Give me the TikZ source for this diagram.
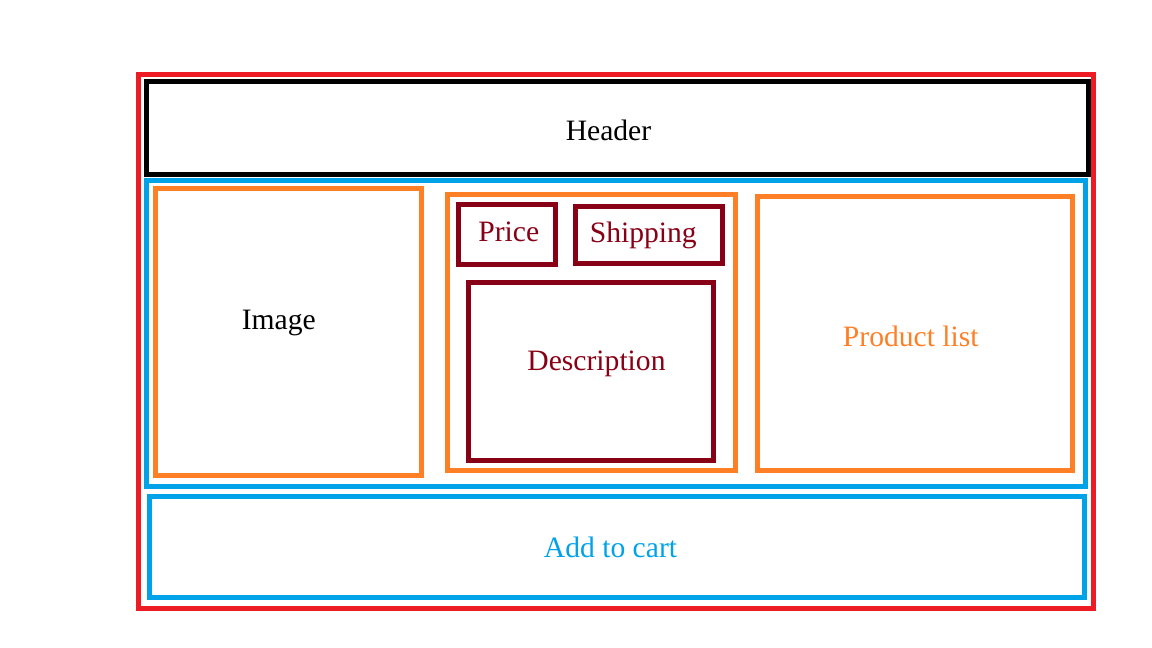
\documentclass[tikz,border=0pt]{standalone}
\usepackage{fontspec}
\setmainfont{Liberation Serif}
\definecolor{pagered}{HTML}{ED1C24}
\definecolor{paneblue}{HTML}{00A2E8}
\definecolor{partorange}{HTML}{FF7F27}
\definecolor{itemred}{HTML}{880015}
\tikzset{
  frame/.style={line width=3.75pt},
  label/.style={anchor=base, inner sep=0pt, font=\fontsize{22.2}{26}\selectfont}
}
\begin{document}
\begin{tikzpicture}[x=0.75pt, y=-0.75pt]
        \useasboundingbox (0,0) rectangle (1152,648);
        \draw[frame, pagered] (138.5,75) rectangle (1093,608);
        \draw[frame, black] (146.5,81.5) rectangle (1088,175) node[label, black] (header) at (608.5,140.5) {Header};
        \draw[frame, paneblue] (146.5,181) rectangle (1085,486.5);
        \draw[frame, partorange] (155,188.5) rectangle (421.5,475) node[label, black] (image) at (278.8,329.5) {Image};
        \draw[frame, partorange] (447.5,195) rectangle (735.5,470.5);
        \draw[frame, itemred] (458,205) rectangle (555.5,265) node[label, itemred] (price) at (508.8,242) {Price};
        \draw[frame, itemred] (575,207) rectangle (722.5,263.5) node[label, itemred] (shipping) at (643.3,242.8) {Shipping};
        \draw[frame, itemred] (468.5,283) rectangle (713.5,460) node[label, itemred] (description) at (596.5,370.5) {Description};
        \draw[frame, partorange] (757.5,196.5) rectangle (1072.5,470) node[label, partorange] (productlist) at (910.8,346.5) {Product list};
        \draw[frame, paneblue] (149.7,496.5) rectangle (1084.5,597.5) node[label, paneblue] (addtocart) at (610.5,557.5) {Add to cart};
\end{tikzpicture}
\end{document}
